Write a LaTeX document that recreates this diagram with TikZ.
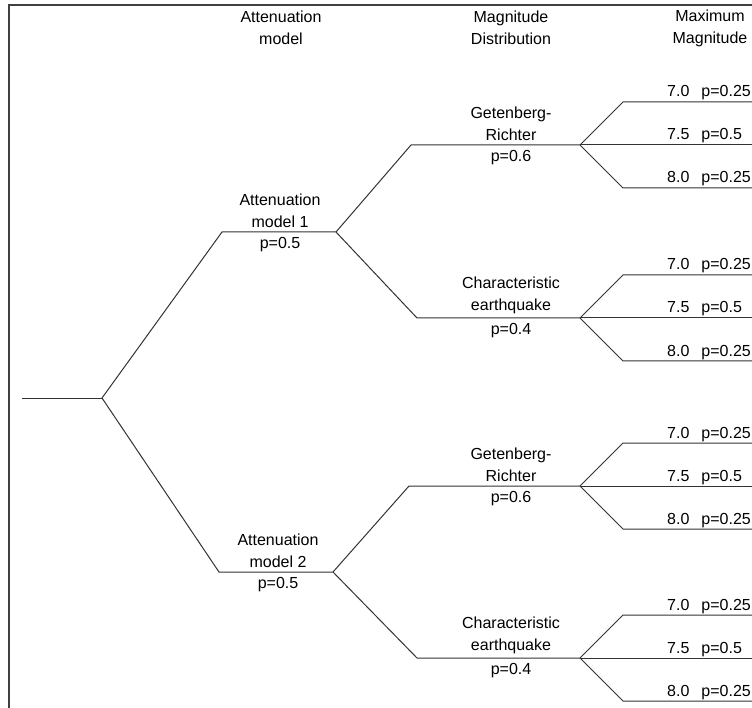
\documentclass[tikz,border=0pt]{standalone}
\usepackage{fontspec}
\setmainfont{Liberation Sans}
\usetikzlibrary{positioning}

\begin{document}
\begin{tikzpicture}[x=1pt, y=-1pt,
    branch/.style={draw=black!80, line width=1pt},
    txt/.style={inner sep=0pt, align=center, font=\fontsize{16}{22}\selectfont},
    lblup/.style={txt, anchor=south, inner sep=4pt},
    lbldn/.style={txt, anchor=north, inner sep=5pt},
    leaf/.style={txt, anchor=base west}]
    \useasboundingbox (0,0) rectangle (752,708);

    % Rahmen
    \draw[black!75, line width=1.2pt] (760,5) -- (9,5) -- (9,712);

    % Kopfzeile
    \node[txt] (hatt) at (281,28) {Attenuation\\model};
    \node[txt] (hdist) at (511,28) {Magnitude\\Distribution};
    \node[txt] (hmax) at (710,28) {Maximum\\Magnitude};

    % Wurzel
    \coordinate (r0) at (22,398);
    \coordinate (r1) at (102,398);
    \draw[branch] (r0) -- (r1);

    % Abminderungsmodelle
    \coordinate (a1-s) at (222,232);
    \coordinate (a1-e) at (336,232);
    \coordinate (a2-s) at (219,572);
    \coordinate (a2-e) at (333,572);
    \draw[branch] (r1) -- (a1-s) -- (a1-e);
    \draw[branch] (r1) -- (a2-s) -- (a2-e);
    \node[lblup] (a1t) at (280,232) {Attenuation\\model 1};
    \node[lbldn] (a1p) at (280,232) {p=0.5};
    \node[lblup] (a2t) at (278,572) {Attenuation\\model 2};
    \node[lbldn] (a2p) at (278,572) {p=0.5};

    % Magnitudenverteilung
    \coordinate (m1-s) at (411,145);
    \coordinate (m1-e) at (580,145);
    \coordinate (m2-s) at (417,318);
    \coordinate (m2-e) at (580,318);
    \coordinate (m3-s) at (409,486);
    \coordinate (m3-e) at (580,486);
    \coordinate (m4-s) at (417,658);
    \coordinate (m4-e) at (580,658);
    \draw[branch] (a1-e) -- (m1-s) -- (m1-e);
    \draw[branch] (a1-e) -- (m2-s) -- (m2-e);
    \draw[branch] (a2-e) -- (m3-s) -- (m3-e);
    \draw[branch] (a2-e) -- (m4-s) -- (m4-e);
    \node[lblup] (m1t) at (511,145) {Getenberg-\\Richter};
    \node[lbldn] (m1p) at (511,145) {p=0.6};
    \node[lblup] (m2t) at (511,318) {Characteristic\\earthquake};
    \node[lbldn] (m2p) at (511,318) {p=0.4};
    \node[lblup] (m3t) at (511,486) {Getenberg-\\Richter};
    \node[lbldn] (m3p) at (511,486) {p=0.6};
    \node[lblup] (m4t) at (511,658) {Characteristic\\earthquake};
    \node[lbldn] (m4p) at (511,658) {p=0.4};

    % Maximalmagnitude
    \foreach \m in {1,...,4} {
        \path (m\m-e) +(43,-43) coordinate (m\m-hi)
                      +(180,0) coordinate (m\m-mid)
                      +(43,43) coordinate (m\m-lo);
        \draw[branch] (m\m-e) -- (m\m-hi) -- +(140,0);
        \draw[branch] (m\m-e) -- (m\m-mid);
        \draw[branch] (m\m-e) -- (m\m-lo) -- +(140,0);
        \path (m\m-hi) ++(44,-5) node[leaf] (l\m-a) {7.0\hspace{0.75em}p=0.25};
        \path (m\m-e) ++(87,-5) node[leaf] (l\m-b) {7.5\hspace{0.75em}p=0.5};
        \path (m\m-lo) ++(44,-5) node[leaf] (l\m-c) {8.0\hspace{0.75em}p=0.25};
    }
\end{tikzpicture}
\end{document}
